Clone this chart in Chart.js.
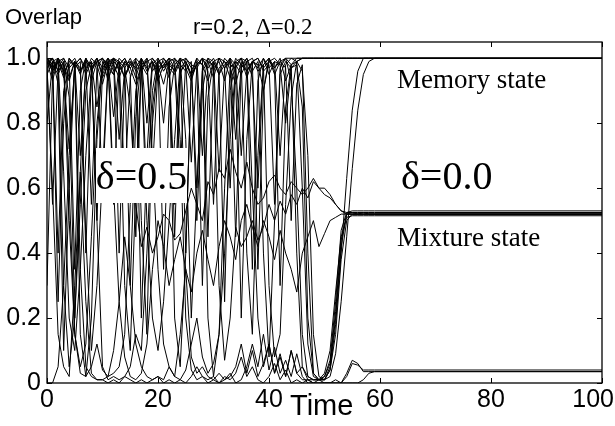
<!DOCTYPE html>
<html><head><meta charset="utf-8">
<script src="https://cdn.jsdelivr.net/npm/chart.js@4"></script>
<style>
html,body{margin:0;padding:0;background:#fff;}
#wrap{position:relative;width:615px;height:426px;overflow:hidden;background:#fff;}
#c{position:absolute;left:0;top:0;}
.t{position:absolute;white-space:nowrap;line-height:1;color:#000;}
.sans{font-family:"Liberation Sans",Arial,sans-serif;}
.serif{font-family:"Liberation Serif","Times New Roman",serif;}
</style></head><body>
<div id="wrap">
<canvas id="c" width="615" height="426"></canvas>
<div class="t sans" style="left:5px;top:6px;font-size:22px;">Overlap</div>
<div class="t" style="left:193px;top:15px;"><span class="sans" style="font-size:22px">r=0.2, </span><span class="serif" style="font-size:23px">Δ=0.2</span></div>
<div class="t serif" style="left:397px;top:66px;font-size:27px;">Memory state</div>
<div class="t serif" style="left:397px;top:224px;font-size:27px;">Mixture state</div>
<div class="t serif" style="left:401px;top:156px;font-size:40px;">δ=0.0</div>
<div class="t serif" style="left:96px;top:148px;width:91px;height:55px;background:#fff;font-size:40px;display:flex;align-items:center;justify-content:center;">δ=0.5</div>
<div class="t sans" style="left:290px;top:391px;font-size:29px;">Time</div>
</div>
<script>
const time = [0,1,2,3,4,5,6,7,8,9,10,11,12,13,14,15,16,17,18,19,20,21,22,23,24,25,26,27,28,29,30,31,32,33,34,35,36,37,38,39,40,41,42,43,44,45,46,47,48,49,50,51,52,53,54,55,56,57,58,59,60,100];
const xTicks = [0,20,40,60,80,100];
const yTicks = [0,0.2,0.4,0.6,0.8,1.0];

// memory-state runs (end at 1.0)
const m1 = [1,0.97,0.99,0.94,1,0.98,0.96,1,0.93,0.99,
 1,0.97,0.95,1,0.98,0.99,0.94,1,0.97,0.99,
 0.95,1,0.98,0.96,1,0.99,0.94,0.98,1,0.97,
 0.99,0.95,1,0.98,0.97,1,0.94,0.99,1,0.97,
 0.99,1,0.98,1,1,1,1,1,1,1,
 1,1,1,1,1,1,1,1,1,1,1,
 1];
const m2 = [0.99,0.93,1,0.96,0.72,0.98,1,0.95,0.99,0.85,
 0.98,1,0.96,0.99,0.62,0.94,1,0.98,0.95,1,
 0.97,0.8,0.99,1,0.96,0.98,0.68,0.97,1,0.99,
 0.94,1,0.97,0.99,0.75,0.98,1,0.96,0.99,0.9,
 1,0.97,0.99,1,0.98,1,1,1,1,1,
 1,1,1,1,1,1,1,1,1,1,1,
 1];
const m3 = [1,0.98,0.25,0.8,1,0.97,0.99,0.4,0.96,1,
 0.95,0.99,0.55,0.98,1,0.97,0.99,0.2,0.7,0.98,
 1,0.96,0.99,0.45,0.95,1,0.98,0.97,0.3,0.88,
 0.99,1,0.97,0.6,0.98,1,0.99,0.35,0.93,1,
 0.97,0.99,0.7,0.98,1,0.99,1,1,1,1,
 1,1,1,1,1,1,1,1,1,1,1,
 1];
const m4 = [0.97,1,0.92,0.1,0.6,0.99,0.95,1,0.97,0.5,
 0.96,1,0.98,0.94,0.99,0.3,0.82,1,0.96,0.99,
 0.93,0.98,1,0.55,0.97,0.99,0.95,1,0.7,0.98,
 1,0.96,0.25,0.9,0.99,0.97,1,0.94,0.6,0.98,
 1,0.95,0.99,0.97,0.5,0.92,0.98,0.4,0.03,0.01,
 0.01,0.04,0.18,0.4,0.63,0.84,0.96,1,1,1,1,
 1];
const m5 = [0.8,0.99,1,0.96,0.98,0.35,0.9,1,0.97,0.99,
 0.6,0.97,1,0.99,0.94,0.98,1,0.5,0.15,0.85,
 0.99,1,0.97,0.95,0.99,0.4,0.96,1,0.98,0.93,
 0.99,0.65,0.97,1,0.95,0.2,0.75,0.99,1,0.96,
 0.98,0.55,0.97,1,0.93,0.6,0.15,0.02,0.01,0.01,
 0.01,0.02,0.09,0.25,0.45,0.66,0.84,0.95,0.99,1,1,
 1];
const m6 = [1,0.96,0.99,0.3,0.05,0.2,0.55,0.9,0.98,1,
 0.97,0.99,0.82,0.98,1,0.95,0.45,0.97,0.99,1,
 0.98,0.92,0.99,0.96,1,0.75,0.2,0.6,0.97,1,
 0.99,0.95,0.98,1,0.45,0.97,0.99,1,0.96,0.98,
 0.3,0.08,0.15,0.55,0.88,0.99,1,1,1,1,
 1,1,1,1,1,1,1,1,1,1,1,
 1];

// mixture-state runs (end near 0.52)
const x1 = [0.98,0.55,0.97,1,0.94,0.99,0.7,0.96,1,0.98,
 0.92,0.99,1,0.4,0.95,0.98,0.99,0.96,1,0.65,
 0.97,0.99,0.94,1,0.98,0.96,0.99,0.5,0.9,1,
 0.97,0.99,0.93,1,0.98,0.7,0.96,0.99,0.97,1,
 0.95,0.99,0.98,0.8,0.97,0.99,0.6,0.12,0.02,0.01,
 0.02,0.06,0.22,0.44,0.52,0.525,0.52,0.525,0.52,0.52,0.52,
 0.52];
const x2 = [1,0.97,0.99,0.65,0.2,0.1,0.35,0.7,0.96,0.99,
 1,0.98,0.95,0.99,0.97,0.85,0.55,0.42,0.48,0.4,
 0.45,0.52,0.5,0.44,0.46,0.53,0.6,0.55,0.5,0.62,
 0.58,0.66,0.63,0.72,0.65,0.6,0.68,0.6,0.55,0.57,
 0.62,0.64,0.6,0.58,0.62,0.6,0.58,0.6,0.63,0.6,
 0.58,0.57,0.55,0.53,0.52,0.52,0.52,0.52,0.52,0.52,0.52,
 0.52];
const x3 = [0.99,1,0.96,0.98,0.5,0.15,0.05,0.12,0.45,0.8,
 0.97,1,0.6,0.25,0.08,0.02,0.01,0.03,0.12,0.35,
 0.5,0.42,0.3,0.38,0.45,0.35,0.28,0.4,0.47,0.38,
 0.3,0.42,0.5,0.45,0.38,0.5,0.55,0.48,0.42,0.5,
 0.45,0.38,0.47,0.4,0.35,0.28,0.4,0.45,0.5,0.42,
 0.46,0.5,0.51,0.52,0.52,0.52,0.52,0.52,0.52,0.52,0.52,
 0.52];
const x4 = [0.95,0.99,0.4,0.9,0.98,1,0.96,0.99,0.55,0.97,
 1,0.93,0.99,0.97,0.3,0.1,0.6,0.98,1,0.96,
 0.99,0.35,0.85,0.98,1,0.97,0.93,0.99,0.98,0.45,
 0.96,1,0.99,0.97,0.92,0.99,0.4,0.15,0.7,0.98,
 1,0.96,0.3,0.85,0.98,0.4,0.05,0.02,0.01,0.01,
 0.03,0.1,0.28,0.45,0.51,0.515,0.515,0.515,0.515,0.515,0.515,
 0.515];
const x5 = [0.97,0.6,0.15,0.05,0.02,0.3,0.65,0.25,0.03,0.01,
 0.01,0.02,0.03,0.05,0.15,0.55,0.9,0.98,0.99,0.7,
 0.35,0.12,0.05,0.02,0.01,0.04,0.12,0.2,0.08,0.03,
 0.06,0.15,0.4,0.75,0.98,0.95,0.99,0.6,0.2,0.05,
 0.12,0.03,0.08,0.02,0.1,0.03,0.01,0.01,0.01,0.01,
 0.02,0.07,0.25,0.47,0.525,0.53,0.53,0.53,0.53,0.53,0.53,
 0.53];
const x6 = [1,0.98,0.95,0.99,0.88,0.2,0.65,0.99,0.97,1,
 0.94,0.98,0.99,0.75,0.97,1,0.96,0.99,0.6,0.9,
 1,0.97,0.99,0.2,0.05,0.4,0.95,0.98,1,0.96,
 0.55,0.97,0.99,0.94,1,0.98,0.96,0.99,0.35,0.9,
 0.99,0.97,1,0.93,0.98,0.99,0.96,0.7,0.15,0.02,
 0.01,0.05,0.2,0.42,0.52,0.52,0.52,0.52,0.52,0.52,0.52,
 0.52];
const x7 = [0.99,0.96,1,0.98,0.93,0.99,0.97,0.45,0.1,0.3,
 0.65,0.98,1,0.96,0.99,0.97,0.92,0.98,0.5,0.2,
 0.1,0.25,0.5,0.75,0.99,1,0.97,0.6,0.96,0.99,
 0.98,0.3,0.07,0.2,0.48,0.42,0.45,0.5,0.44,0.48,
 0.55,0.5,0.56,0.52,0.58,0.55,0.6,0.57,0.62,0.6,
 0.6,0.58,0.55,0.53,0.525,0.525,0.525,0.525,0.525,0.525,0.525,
 0.525];
const x8 = [0.3,0.95,0.99,1,0.97,0.99,0.15,0.02,0.2,0.75,
 0.99,0.96,1,0.98,0.94,0.99,0.97,1,0.8,0.99,
 0.96,0.98,1,0.97,0.65,0.99,0.95,0.98,1,0.2,
 0.02,0.15,0.6,0.97,0.99,1,0.96,0.99,0.98,0.4,
 0.08,0.5,0.95,0.99,0.97,0.98,0.85,0.2,0.03,0.01,
 0.01,0.04,0.15,0.38,0.5,0.52,0.52,0.52,0.52,0.52,0.52,
 0.52];

// runs that end near zero
const l1 = [0.99,0.97,1,0.95,0.99,0.98,0.35,0.05,0.02,0.01,
 0.01,0,0.01,0,0.02,0.01,0,0.01,0,0.01,
 0.02,0,0.01,0,0.01,0,0.02,0.05,0.02,0,
 0.01,0,0.02,0.01,0.03,0.08,0.02,0.05,0.01,0,
 0.02,0.06,0.01,0.04,0,0.01,0,0.01,0,0,
 0,0,0,0,0.03,0.07,0.06,0.035,0.035,0.035,0.035,
 0.035];
const l2 = [0.98,1,0.96,0.99,0.6,0.15,0.03,0.02,0.05,0.12,
 0.04,0.02,0.1,0.25,0.45,0.3,0.12,0.05,0.02,0.01,
 0.02,0.01,0.05,0.02,0.15,0.35,0.08,0.03,0.05,0.02,
 0.01,0.03,0.01,0.02,0.05,0.12,0.03,0.1,0.02,0.06,
 0.12,0.03,0.09,0.02,0.1,0.03,0.05,0.01,0,0.01,
 0,0,0.01,0,0.02,0.06,0.055,0.04,0.04,0.04,0.04,
 0.04];
const l3 = [0,0,0.05,0.3,0.7,0.98,1,0.97,0.99,0.5,
 0.05,0.01,0.02,0.01,0.02,0.05,0.15,0.1,0.4,0.8,
 0.99,0.97,1,0.99,0.75,0.2,0.04,0.01,0.02,0.01,
 0.02,0,0.01,0.03,0,0.01,0.05,0.12,0.05,0.15,
 0.04,0.11,0.03,0.07,0.02,0.09,0.02,0,0,0,
 0,0,0,0,0,0,0,0.01,0.03,0.035,0.035,
 0.035];

const runs = [m1,m2,m3,m4,m5,m6,x1,x2,x3,x4,x5,x6,x7,x8,l1,l2,l3];

const datasets = runs.map(r => ({
  data: r.map((v,i) => ({x: time[i], y: v})),
  borderColor: '#000', borderWidth: 1, pointRadius: 0, tension: 0, fill: false
}));

const TICK_FONT = '25px "Liberation Sans", Arial, sans-serif';

const frame = {
  id: 'frame',
  afterDatasetsDraw(chart) {
    const {ctx, chartArea: a, scales: {x, y}} = chart;
    ctx.save();
    ctx.strokeStyle = '#000';
    ctx.lineWidth = 1.3;
    ctx.strokeRect(a.left, a.top, a.right - a.left, a.bottom - a.top);
    ctx.lineWidth = 1;
    ctx.beginPath();
    xTicks.forEach(v => {
      const px = Math.round(x.getPixelForValue(v)) + 0.5;
      ctx.moveTo(px, a.bottom); ctx.lineTo(px, a.bottom - 5);
      ctx.moveTo(px, a.top); ctx.lineTo(px, a.top + 5);
    });
    yTicks.forEach(v => {
      const py = Math.round(y.getPixelForValue(v)) + 0.5;
      ctx.moveTo(a.left, py); ctx.lineTo(a.left + 5, py);
      ctx.moveTo(a.right, py); ctx.lineTo(a.right - 5, py);
    });
    ctx.stroke();
    // x tick labels, kept inside the canvas
    ctx.fillStyle = '#000';
    ctx.font = TICK_FONT;
    ctx.textBaseline = 'alphabetic';
    ctx.textAlign = 'left';
    xTicks.forEach(v => {
      const label = String(v);
      const w = ctx.measureText(label).width;
      let left = x.getPixelForValue(v) - w / 2;
      if (left + w > chart.width - 1) left = chart.width - 1 - w;
      ctx.fillText(label, left, 407);
    });
    ctx.restore();
  }
};

new Chart(document.getElementById('c'), {
  type: 'line',
  data: { datasets },
  options: {
    responsive: false, animation: false, devicePixelRatio: 1,
    layout: { padding: { left: 0, top: 42, right: 13, bottom: 0 } },
    plugins: { legend: { display: false }, tooltip: { enabled: false } },
    scales: {
      x: {
        type: 'linear', min: 0, max: 100,
        grid: { display: false, drawTicks: false },
        border: { display: false },
        afterBuildTicks: s => { s.ticks = xTicks.map(v => ({value: v})); },
        afterFit: s => { s.height = 43; s.paddingLeft = 0; s.paddingRight = 0; },
        ticks: { display: false }
      },
      y: {
        type: 'linear', min: 0, max: 1.05,
        grid: { display: false, drawTicks: false },
        border: { display: false },
        afterBuildTicks: s => { s.ticks = yTicks.map(v => ({value: v})); },
        afterFit: s => { s.width = 47; s.paddingTop = 0; s.paddingBottom = 0; },
        ticks: { color: '#000', padding: 6, autoSkip: false,
          font: { family: '"Liberation Sans", Arial, sans-serif', size: 25 },
          callback: v => v === 0 ? '0' : v.toFixed(1) }
      }
    }
  },
  plugins: [frame]
});
</script>
</body></html>
